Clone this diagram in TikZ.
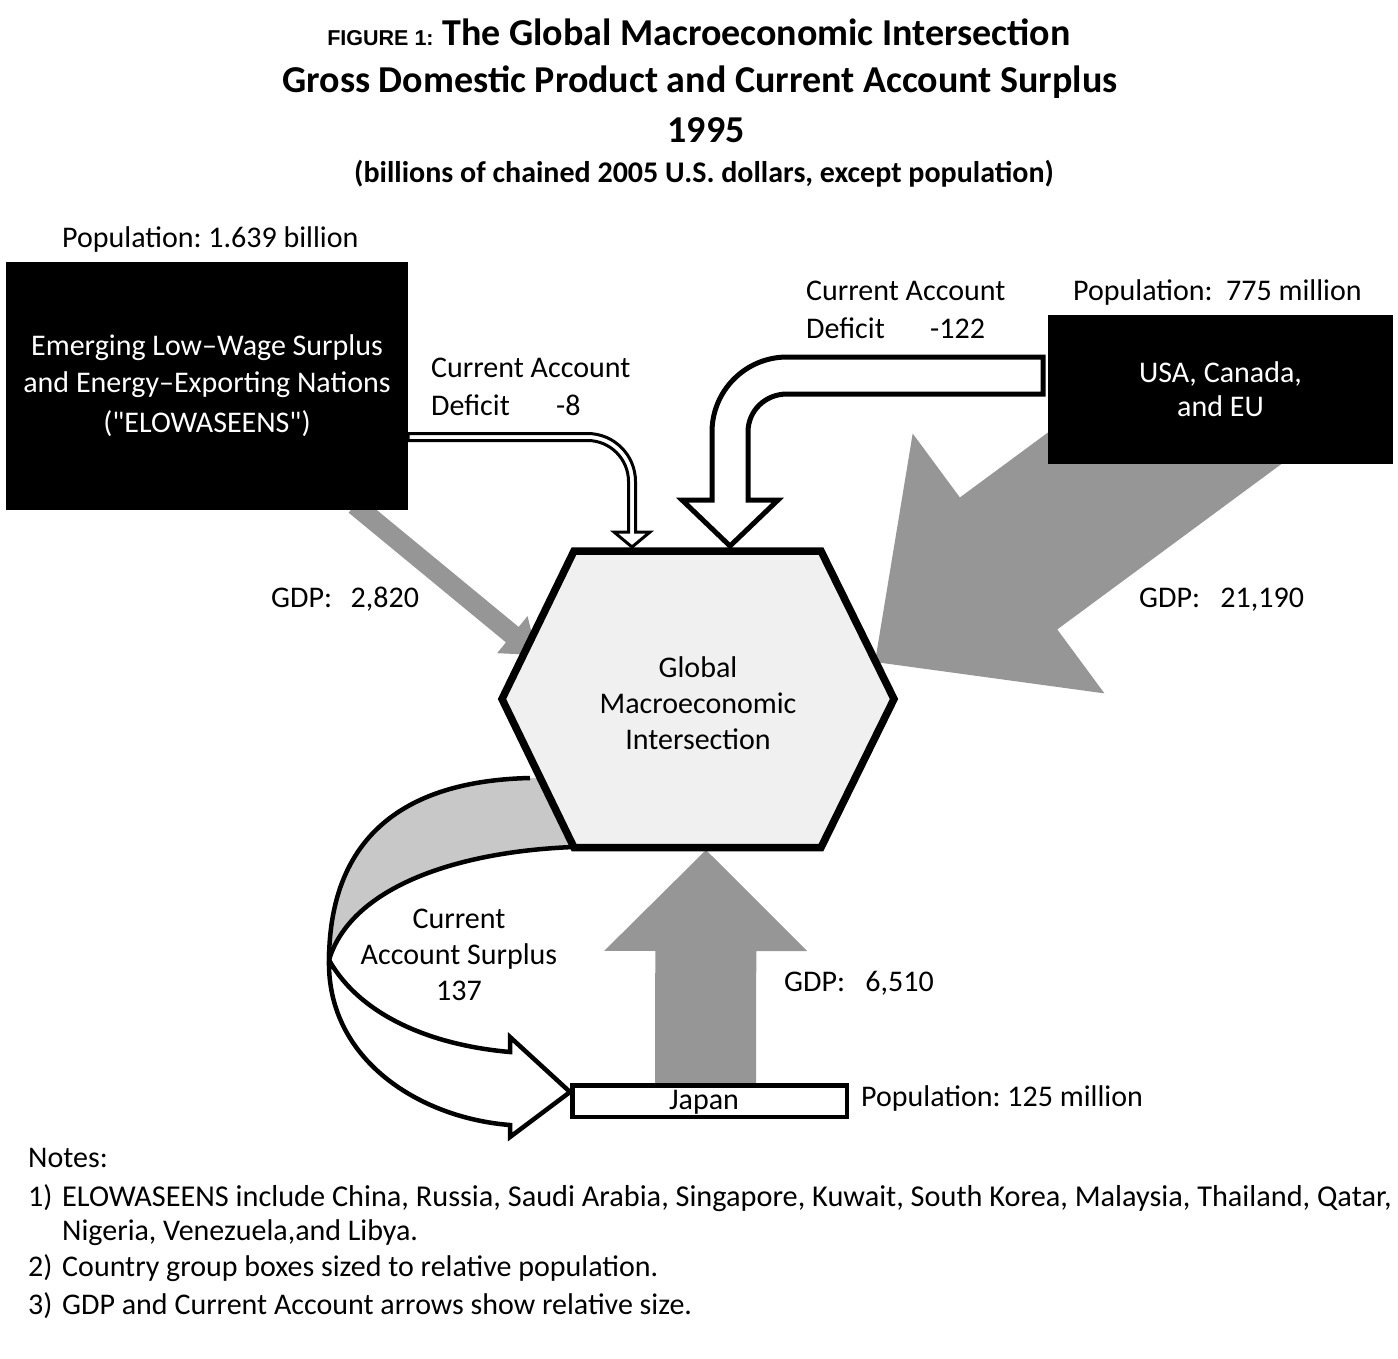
\documentclass[tikz,border=0pt]{standalone}
\usepackage{fontspec}
\setmainfont{Carlito}
\newfontfamily\labelfont{Liberation Sans}
\usetikzlibrary{calc}
\definecolor{gdpgray}{RGB}{150,150,150}
\definecolor{ribbongray}{RGB}{200,200,200}
\definecolor{hexfill}{RGB}{240,240,240}
% block arrow: #1 tail coord, #2 tip coord, #3 half shaft width, #4 half head width, #5 head length
\newcommand\blockarrow[5]{%
  \coordinate (#1-base) at ($(#2)!#5!(#1)$);
  \fill[gdpgray] ($(#1)!#3!90:(#2)$) -- ($(#1-base)!#3!90:(#2)$) -- ($(#1-base)!#4!90:(#2)$)
    -- (#2) -- ($(#1-base)!#4!-90:(#2)$) -- ($(#1-base)!#3!-90:(#2)$) -- ($(#1)!#3!-90:(#2)$) -- cycle;}
\begin{document}
\frenchspacing
\begin{tikzpicture}[x=1pt,y=-1pt,
  txt/.style={inner sep=0pt, font=\fontsize{30}{36}\selectfont},
  tb/.style={txt, anchor=base west},
  ttl/.style={inner sep=0pt, anchor=base, font=\fontsize{38}{44}\selectfont\bfseries},
  blackbox/.style={fill=black, text=white, inner sep=0pt, align=center, font=\fontsize{30}{37}\selectfont},
  hollow/.style={fill=white, draw=black, line join=miter},
  line cap=butt]
\useasboundingbox (0,0) rectangle (1398,1358);

% ---------- title ----------
\node[ttl] (t1) at (699,45) {{\labelfont\fontsize{21.5}{24}\selectfont\bfseries FIGURE 1:} The Global Macroeconomic Intersection};
\node[ttl] (t2) at (700,92) {Gross Domestic Product and Current Account Surplus};
\node[ttl] (t3) at (706,142) {1995};
\node[ttl, font=\fontsize{30}{34}\selectfont\bfseries] (t4) at (704,182) {(billions of chained 2005 U.S. dollars, except population)};

% ---------- named points ----------
\coordinate (eTail) at (355,505);
\coordinate (eTip) at (537,655);
\coordinate (uTail) at (1277.5,365);
\coordinate (uTip) at (875,662);
\coordinate (jTail) at (705.5,1086);
\coordinate (jTip) at (706,850);

% ---------- GDP arrows (under boxes and hexagon) ----------
\blockarrow{eTail}{eTip}{10pt}{24pt}{32pt}
\begin{scope}
  \clip (0,320) rectangle (1398,1358);
  \blockarrow{uTail}{uTip}{82pt}{161.5pt}{166pt}
\end{scope}
\blockarrow{jTail}{jTip}{50.5pt}{101.5pt}{101pt}

% ---------- country boxes ----------
\node[blackbox, minimum width=402pt, minimum height=248pt] (elow) at (207,386)
  {Emerging Low--Wage Surplus\\and Energy--Exporting Nations\\[3pt](\textquotedbl ELOWASEENS\textquotedbl)};
\node[blackbox, minimum width=345pt, minimum height=149pt, font=\fontsize{30}{34}\selectfont] (usa) at (1220.5,389.5)
  {USA, Canada,\\and EU};
\node[draw=black, line width=4.5pt, fill=white, minimum width=274.5pt, minimum height=31.5pt, inner sep=0pt,
  text depth=0pt, text height=0pt] (japan) at (709.5,1101) {};
\node[tb, anchor=base] (japanlbl) at (704,1109) {Japan};

% ---------- current account surplus ribbon ----------
\coordinate (rOut) at (530,778);
\coordinate (rIn) at (573,847);
\coordinate (rX) at (329,960);
\coordinate (rTip) at (570,1092);
\fill[ribbongray] (rOut) .. controls (440,780) and (330,810) .. (rX)
  .. controls (350,890) and (450,852) .. (rIn) -- (600,847) -- (560,778) -- cycle;
\draw[line width=4.5pt] (rOut) .. controls (440,780) and (330,810) .. (rX);
\draw[line width=4.5pt] (rX) .. controls (350,890) and (450,852) .. (rIn);
\draw[hollow, line width=4.5pt] (rX) .. controls (327,1060) and (420,1118) .. (510,1125)
  -- (510,1137) -- (rTip) -- (510,1037) -- (510,1052)
  .. controls (430,1045) and (360,1015) .. (rX) -- cycle;

% ---------- hexagon ----------
\coordinate (h1) at (574,551);
\coordinate (h2) at (821,551);
\coordinate (h3) at (894,699);
\coordinate (h4) at (821,847.5);
\coordinate (h5) at (574,847.5);
\coordinate (h6) at (502,699);
\draw[fill=hexfill, line width=7.5pt, line join=miter] (h1) -- (h2) -- (h3) -- (h4) -- (h5) -- (h6) -- cycle;
\node[txt, align=center] (gmi) at (698,703) {Global\\Macroeconomic\\Intersection};

% ---------- current account deficit arrows ----------
\coordinate (d8Start) at (408,437);
\coordinate (d8Tip) at (632,547);
\draw[hollow, line width=3pt] (d8Start |- 0,433.5) -- (587.5,433.5) .. controls (614,433.5) and (635.5,455) .. (635.5,481.5)
  -- (635.5,532) -- (650,532) -- (d8Tip) -- (614,532) -- (628.5,532) -- (628.5,481.5)
  .. controls (628.5,458.9) and (610.1,440.5) .. (587.5,440.5) -- (d8Start |- 0,440.5) -- cycle;
\coordinate (d122Start) at (1043,375.5);
\coordinate (d122Tip) at (730,546);
\draw[hollow, line width=5pt] (d122Start |- 0,357) -- (787,357) .. controls (745.6,357) and (712,390.6) .. (712,432)
  -- (712,500) -- (682,500) -- (d122Tip) -- (778,500) -- (748,500) -- (748,432)
  .. controls (748,410.5) and (765.5,394) .. (787,394) -- (d122Start |- 0,394) -- cycle;

% ---------- labels ----------
\node[tb] (popE) at (62,247) {Population: 1.639 billion};
\node[tb] (popU) at (1073,300) {Population:\ \ 775 million};
\node[tb] (caU1) at (806,300) {Current Account};
\node[tb] (caU2) at (806,338) {\makebox[124pt][l]{Deficit}-122};
\node[tb] (caE1) at (431,377) {Current Account};
\node[tb] (caE2) at (431,415) {\makebox[125pt][l]{Deficit}-8};
\node[tb] (gdpE) at (271,607) {GDP:\ \ \,2,820};
\node[tb] (gdpU) at (1139,607) {GDP:\ \ \ 21,190};
\node[tb] (gdpJ) at (784,991) {GDP:\ \ \ 6,510};
\node[txt, align=center, font=\fontsize{30}{36}\selectfont] (cas) at (459,955) {Current\\Account Surplus\\137};
\node[tb] (popJ) at (861,1106) {Population: 125 million};

% ---------- notes ----------
\node[tb] (notes) at (28,1167) {Notes:};
\node[tb] (n1n) at (28,1206) {1)};
\node[tb, font=\fontsize{30.3}{36}\selectfont] (n1) at (62,1206) {ELOWASEENS include China, Russia, Saudi Arabia, Singapore, Kuwait, South Korea, Malaysia, Thailand, Qatar,};
\node[tb] (n1b) at (62,1240) {Nigeria, Venezuela,and Libya.};
\node[tb] (n2n) at (28,1276) {2)};
\node[tb] (n2) at (62,1276) {Country group boxes sized to relative population.};
\node[tb] (n3n) at (28,1314) {3)};
\node[tb] (n3) at (62,1314) {GDP and Current Account arrows show relative size.};
\end{tikzpicture}
\end{document}
